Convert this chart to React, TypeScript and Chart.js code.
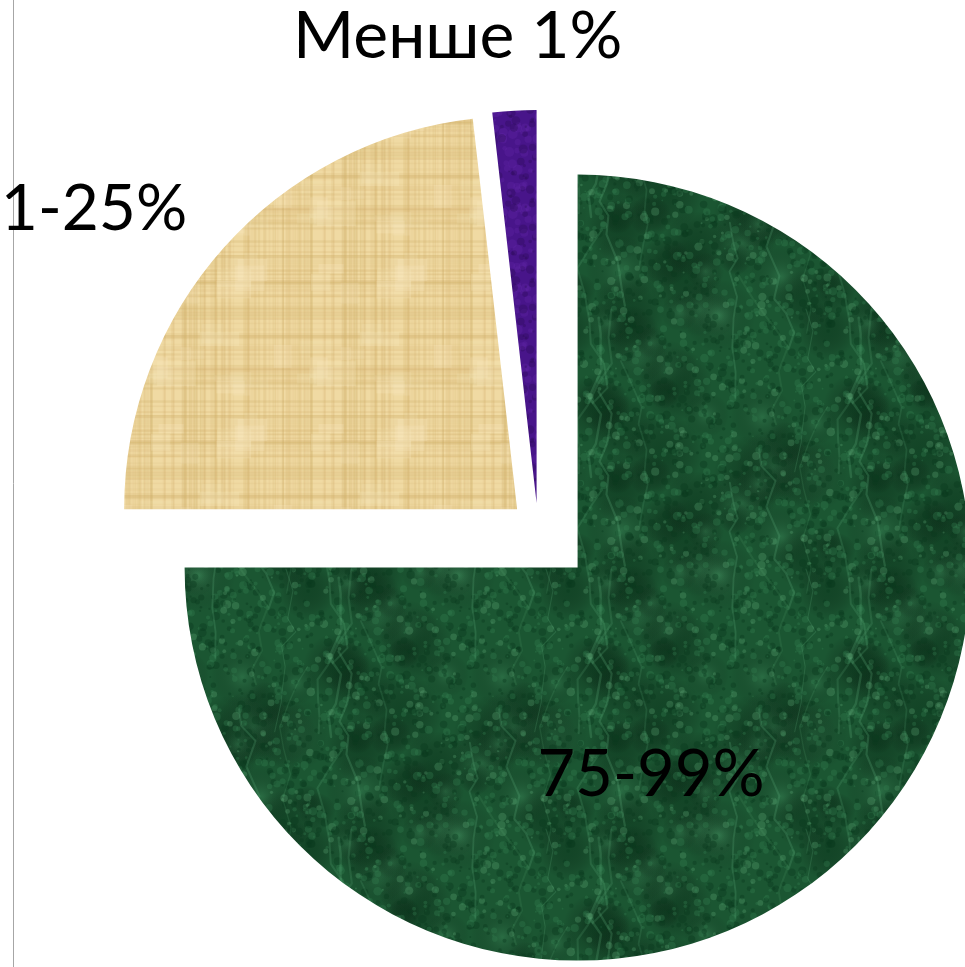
import React, { useEffect, useRef } from "react";
import { Chart, registerables } from "chart.js";

Chart.register(...registerables);

// ---- data ----
const CATEGORIES: string[] = ["75-99%", "1-25%", "Менше 1%"];
const SHARES: number[] = [75, 23.2, 1.8];

// ---- styles ----
const EXPLODE: number[] = [56, 28, 25];
const LABEL_ANGLES: number[] = [70.5, -144.7, -99.6]; // degrees, canvas angle from slice centre
const LABEL_RADII: number[] = [0.56, 1.319, 1.2025]; // fraction of radius
const LABEL_SIZES: number[] = [65, 64, 66];
const PIE_RADIUS = 393;
const FONT = "Lato, 'Noto Sans', sans-serif";

function hash(n: number): number {
  const x = Math.sin(n * 12.9898 + 78.233) * 43758.5453;
  return x - Math.floor(x);
}

// draw something at every wrapped copy so tiles join without seams
function wrapped(size: number, fn: (ox: number, oy: number) => void) {
  for (const ox of [-size, 0, size]) for (const oy of [-size, 0, size]) fn(ox, oy);
}

function makeGreen(): CanvasPattern | string {
  const S = 260;
  const c = document.createElement("canvas");
  c.width = S;
  c.height = S;
  const g = c.getContext("2d");
  if (!g) return "#1f5c36";
  g.fillStyle = "#1b5632";
  g.fillRect(0, 0, S, S);
  for (let i = 0; i < 40; i++) {
    const x = hash(i * 11.3) * S;
    const y = hash(i * 13.7 + 4) * S;
    const r = 12 + hash(i * 1.9 + 2) * 30;
    const light = hash(i * 5.3) > 0.5;
    wrapped(S, (ox, oy) => {
      const grd = g.createRadialGradient(x + ox, y + oy, 0, x + ox, y + oy, r);
      grd.addColorStop(0, light ? "rgba(70,150,100,0.35)" : "rgba(8,50,25,0.45)");
      grd.addColorStop(1, "rgba(0,0,0,0)");
      g.fillStyle = grd;
      g.fillRect(x + ox - r, y + oy - r, r * 2, r * 2);
    });
  }
  for (let i = 0; i < 1100; i++) {
    const x = hash(i * 3.1) * S;
    const y = hash(i * 7.7 + 1) * S;
    const r = 0.8 + hash(i * 1.3 + 5) * 3.5;
    const t = hash(i * 2.9 + 9);
    g.fillStyle = t < 0.45 ? "rgba(10,58,30,0.4)" : t < 0.85 ? "rgba(52,125,80,0.35)" : "rgba(95,170,120,0.3)";
    wrapped(S, (ox, oy) => {
      g.beginPath();
      g.arc(x + ox, y + oy, r, 0, Math.PI * 2);
      g.fill();
    });
  }
  g.lineCap = "round";
  g.lineJoin = "round";
  for (let v = 0; v < 10; v++) {
    const alpha = 0.12 + hash(v * 4.4) * 0.15;
    const lw = 1 + hash(v * 5.5) * 2;
    const pts: [number, number][] = [];
    let x = hash(v * 9.1) * S;
    let y = hash(v * 6.3 + 2) * S;
    pts.push([x, y]);
    for (let s = 0; s < 8; s++) {
      x += (hash(v * 31 + s * 1.7) - 0.5) * 30;
      y += 12 + hash(v * 17 + s * 2.3) * 18;
      pts.push([x, y]);
    }
    wrapped(S, (ox, oy) => {
      g.strokeStyle = `rgba(100,180,130,${alpha})`;
      g.lineWidth = lw;
      g.beginPath();
      pts.forEach(([px, py], k) => (k === 0 ? g.moveTo(px + ox, py + oy) : g.lineTo(px + ox, py + oy)));
      g.stroke();
    });
  }
  return g.createPattern(c, "repeat") || "#1f5c36";
}

function makeBeige(): CanvasPattern | string {
  const S = 160;
  const c = document.createElement("canvas");
  c.width = S;
  c.height = S;
  const g = c.getContext("2d");
  if (!g) return "#efd9a2";
  g.fillStyle = "#f0daa3";
  g.fillRect(0, 0, S, S);
  for (let i = 0; i < 70; i++) {
    const y = hash(i * 2.1) * S;
    g.fillStyle = `rgba(205,170,100,${0.08 + hash(i * 3.3) * 0.15})`;
    g.fillRect(0, y, S, 1 + hash(i * 4.7) * 2);
  }
  for (let i = 0; i < 70; i++) {
    const x = hash(i * 5.9 + 3) * S;
    g.fillStyle = `rgba(205,170,100,${0.08 + hash(i * 6.1) * 0.15})`;
    g.fillRect(x, 0, 1 + hash(i * 8.3) * 2, S);
  }
  for (let i = 0; i < 25; i++) {
    const x = hash(i * 1.9) * S;
    const y = hash(i * 2.7) * S;
    const w = 10 + hash(i * 3.9) * 30;
    const h = 6 + hash(i * 4.1) * 20;
    g.fillStyle = `rgba(250,235,195,${0.1 + hash(i * 9.7) * 0.15})`;
    wrapped(S, (ox, oy) => g.fillRect(x + ox, y + oy, w, h));
  }
  return g.createPattern(c, "repeat") || "#efd9a2";
}

function makePurple(): CanvasPattern | string {
  const S = 80;
  const c = document.createElement("canvas");
  c.width = S;
  c.height = S;
  const g = c.getContext("2d");
  if (!g) return "#4a1688";
  g.fillStyle = "#48158a";
  g.fillRect(0, 0, S, S);
  for (let i = 0; i < 120; i++) {
    const t = hash(i * 2.3);
    const x = hash(i * 3.7) * S;
    const y = hash(i * 5.1) * S;
    const r = 1 + hash(i * 7.3) * 4;
    g.fillStyle = t < 0.5 ? "rgba(40,10,80,0.3)" : "rgba(100,40,170,0.3)";
    wrapped(S, (ox, oy) => {
      g.beginPath();
      g.arc(x + ox, y + oy, r, 0, Math.PI * 2);
      g.fill();
    });
  }
  return g.createPattern(c, "repeat") || "#4a1688";
}

const explodePlugin = {
  id: "explode",
  afterDatasetUpdate(chart: any, args: any, opts: any) {
    const meta = chart.getDatasetMeta(args.index);
    const d: number[] = (opts && opts.distances) || [];
    meta.data.forEach((el: any, i: number) => {
      const dist = d[i] || 0;
      const mid = (el.startAngle + el.endAngle) / 2;
      el.x += Math.cos(mid) * dist;
      el.y += Math.sin(mid) * dist;
    });
  },
};

const labelPlugin = {
  id: "sliceLabels",
  afterDatasetsDraw(chart: any) {
    const ctx = chart.ctx;
    const meta = chart.getDatasetMeta(0);
    const labels = chart.data.labels as string[];
    ctx.save();
    ctx.fillStyle = "#000000";
    ctx.textAlign = "center";
    ctx.textBaseline = "middle";
    meta.data.forEach((el: any, i: number) => {
      const a = (LABEL_ANGLES[i] * Math.PI) / 180;
      const r = el.outerRadius * LABEL_RADII[i];
      ctx.font = `${LABEL_SIZES[i]}px ${FONT}`;
      ctx.fillText(labels[i], el.x + Math.cos(a) * r, el.y + Math.sin(a) * r);
    });
    ctx.restore();
  },
};

const framePlugin = {
  id: "frameLine",
  beforeDraw(chart: any) {
    const ctx = chart.ctx;
    ctx.save();
    ctx.strokeStyle = "#a6a6a6";
    ctx.lineWidth = 1;
    ctx.beginPath();
    ctx.moveTo(13.5, 0);
    ctx.lineTo(13.5, chart.height);
    ctx.stroke();
    ctx.restore();
  },
};

export default function App() {
  const ref = useRef<HTMLCanvasElement | null>(null);

  useEffect(() => {
    if (!ref.current) return;
    const chart = new Chart(ref.current, {
      type: "pie",
      data: {
        labels: CATEGORIES,
        datasets: [
          {
            data: SHARES,
            backgroundColor: [makeGreen(), makeBeige(), makePurple()],
            borderWidth: 0,
            clip: false as any,
          },
        ],
      },
      options: {
        responsive: false,
        animation: false,
        radius: PIE_RADIUS,
        layout: { padding: { left: 111, right: 0, top: 89, bottom: 0 } },
        plugins: {
          legend: { display: false },
          tooltip: { enabled: false },
          title: { display: false },
          explode: { distances: EXPLODE },
        } as any,
      },
      plugins: [framePlugin, explodePlugin, labelPlugin],
    });
    return () => chart.destroy();
  }, []);

  return (
    <div
      style={{
        position: "fixed",
        left: 0,
        top: 0,
        width: 965,
        height: 967,
        overflow: "hidden",
        background: "#ffffff",
      }}
    >
      <canvas ref={ref} width={965} height={967} style={{ display: "block" }} />
    </div>
  );
}
